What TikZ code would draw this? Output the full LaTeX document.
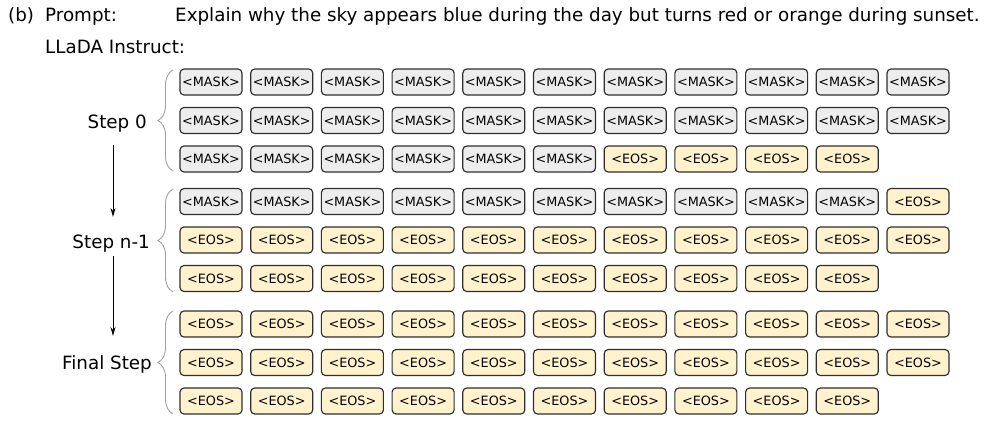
\documentclass[tikz,border=0pt]{standalone}
\usepackage{fontspec}
\setmainfont{DejaVu Sans}
\usetikzlibrary{decorations.pathreplacing,arrows.meta}
\definecolor{eosfill}{HTML}{FFF2CC}
\definecolor{maskfill}{HTML}{EDEDED}
\definecolor{tokline}{HTML}{2E2E2E}
\begin{document}
\begin{tikzpicture}[x=1pt,y=-1pt,
  tok/.style={draw=tokline, line width=1.15pt, rounded corners=4pt, minimum width=62pt, minimum height=26pt, inner sep=0pt, font=\fontsize{12.8}{12.8}\selectfont},
  masktok/.style={tok, fill=maskfill},
  eostok/.style={tok, fill=eosfill},
  big/.style={font=\fontsize{18.3}{18.3}\selectfont, inner sep=0pt},
  brc/.style={draw=gray!75, line width=0.9pt, decorate, decoration={brace, amplitude=15pt}},
  flow/.style={-{Stealth[length=9pt,width=5pt]}, line width=1pt}]
\useasboundingbox (0,0) rectangle (987,421);

% header
\node[big, anchor=base west] (b) at (8,21.5) {(b)};
\node[big, anchor=base west] (pl) at (45,21.5) {Prompt:};
\node[big, anchor=base west] (pt) at (175,21.5) {Explain why the sky appears blue during the day but turns red or orange during sunset.};
\node[big, anchor=base west] (ll) at (45,53.5) {LLaDA Instruct:};

% group 1 (Step 0)
\foreach \c in {0,...,10} {
  \node[masktok] (g1r1c\c) at ({211+70.7*\c},82) {<MASK>};
  \node[masktok] (g1r2c\c) at ({211+70.7*\c},120.5) {<MASK>};
}
\foreach \c in {0,...,5} {
  \node[masktok] (g1r3c\c) at ({211+70.7*\c},159) {<MASK>};
}
\foreach \c in {6,...,9} {
  \node[eostok] (g1r3c\c) at ({211+70.7*\c},159) {<EOS>};
}

% group 2 (Step n-1)
\foreach \c in {0,...,9} {
  \node[masktok] (g2r1c\c) at ({211+70.7*\c},201.5) {<MASK>};
}
\node[eostok] (g2r1c10) at ({211+70.7*10},201.5) {<EOS>};
\foreach \c in {0,...,10} {
  \node[eostok] (g2r2c\c) at ({211+70.7*\c},240) {<EOS>};
}
\foreach \c in {0,...,9} {
  \node[eostok] (g2r3c\c) at ({211+70.7*\c},278.5) {<EOS>};
}

% group 3 (Final Step)
\foreach \c in {0,...,10} {
  \node[eostok] (g3r1c\c) at ({211+70.7*\c},324) {<EOS>};
  \node[eostok] (g3r2c\c) at ({211+70.7*\c},362.5) {<EOS>};
}
\foreach \c in {0,...,9} {
  \node[eostok] (g3r3c\c) at ({211+70.7*\c},401) {<EOS>};
}

% step labels
\node[big, anchor=base east] (s0) at (147,128) {Step 0};
\node[big, anchor=base east] (sn) at (150,248.5) {Step n-1};
\node[big, anchor=base east] (sf) at (152,369.5) {Final Step};

% braces
\coordinate (b1t) at (173,70);
\coordinate (b1b) at (173,171);
\coordinate (b2t) at (173,189);
\coordinate (b2b) at (173,292);
\coordinate (b3t) at (173,311);
\coordinate (b3b) at (173,414);
\draw[brc] (b1b) -- (b1t);
\draw[brc] (b2b) -- (b2t);
\draw[brc] (b3b) -- (b3t);

% arrows
\coordinate (a1s) at (113,145);
\coordinate (a1e) at (113,217);
\coordinate (a2s) at (113,256);
\coordinate (a2e) at (113,336);
\draw[flow] (a1s) -- (a1e);
\draw[flow] (a2s) -- (a2e);
\end{tikzpicture}
\end{document}
